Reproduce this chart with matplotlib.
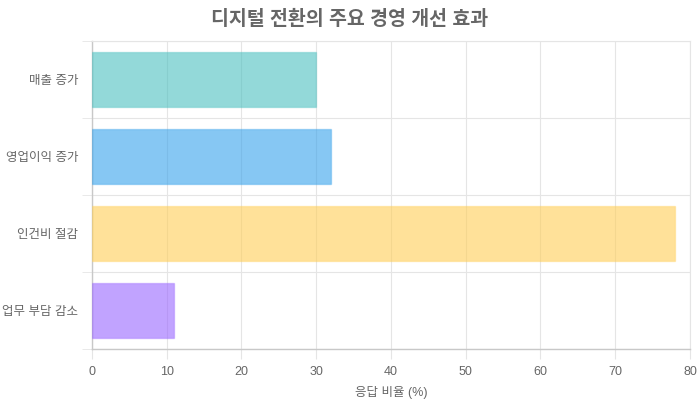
import numpy as np
import matplotlib.pyplot as plt

plt.rcParams['font.family'] = ['Liberation Sans', 'Noto Sans CJK KR', 'DejaVu Sans']

categories = ['매출 증가', '영업이익 증가', '인건비 절감', '업무 부담 감소']
values = [30, 32, 78, 11]
fill_colors = [(75/255, 192/255, 192/255, 0.6), (54/255, 162/255, 235/255, 0.6),
               (255/255, 206/255, 86/255, 0.6), (153/255, 102/255, 255/255, 0.6)]
edge_colors = [(75/255, 192/255, 192/255, 0.35), (54/255, 162/255, 235/255, 0.35),
               (255/255, 206/255, 86/255, 0.35), (153/255, 102/255, 255/255, 0.35)]
x_ticks = [0, 10, 20, 30, 40, 50, 60, 70, 80]

fig = plt.figure(figsize=(7, 4), dpi=100)
ax = fig.add_axes([0.1314, 0.1275, 0.8543, 0.77])

y = np.arange(len(categories))
ax.barh(y, values, height=0.72, color=fill_colors, edgecolor=edge_colors, linewidth=1, zorder=3)

ax.set_xlim(0, 80)
ax.set_ylim(len(categories) - 0.5, -0.5)
ax.set_xticks(x_ticks)
ax.set_yticks(y)
ax.set_yticklabels(categories)
ax.set_yticks(np.arange(-0.5, len(categories)), minor=True)

ax.grid(True, axis='x', color='#e5e5e5', linewidth=0.8, zorder=0)
ax.grid(True, axis='y', which='minor', color='#e5e5e5', linewidth=0.8, zorder=0)
ax.tick_params(axis='y', which='major', length=0, labelsize=9, labelcolor='#666666', pad=10)
ax.tick_params(axis='y', which='minor', length=7, color='#e5e5e5')
ax.tick_params(axis='x', length=7, color='#e5e5e5', labelsize=9, labelcolor='#666666', pad=5)

for side in ['top', 'right']:
    ax.spines[side].set_color('#e5e5e5')
    ax.spines[side].set_linewidth(0.8)
for side in ['left', 'bottom']:
    ax.spines[side].set_color('#c8c8c8')
    ax.spines[side].set_linewidth(1)

ax.set_xlabel('응답 비율 (%)', fontsize=9, color='#666666', labelpad=6)
fig.suptitle('디지털 전환의 주요 경영 개선 효과', fontsize=14, fontweight='bold',
             color='#666666', y=0.975)

fig.savefig('out.png', dpi=100)
